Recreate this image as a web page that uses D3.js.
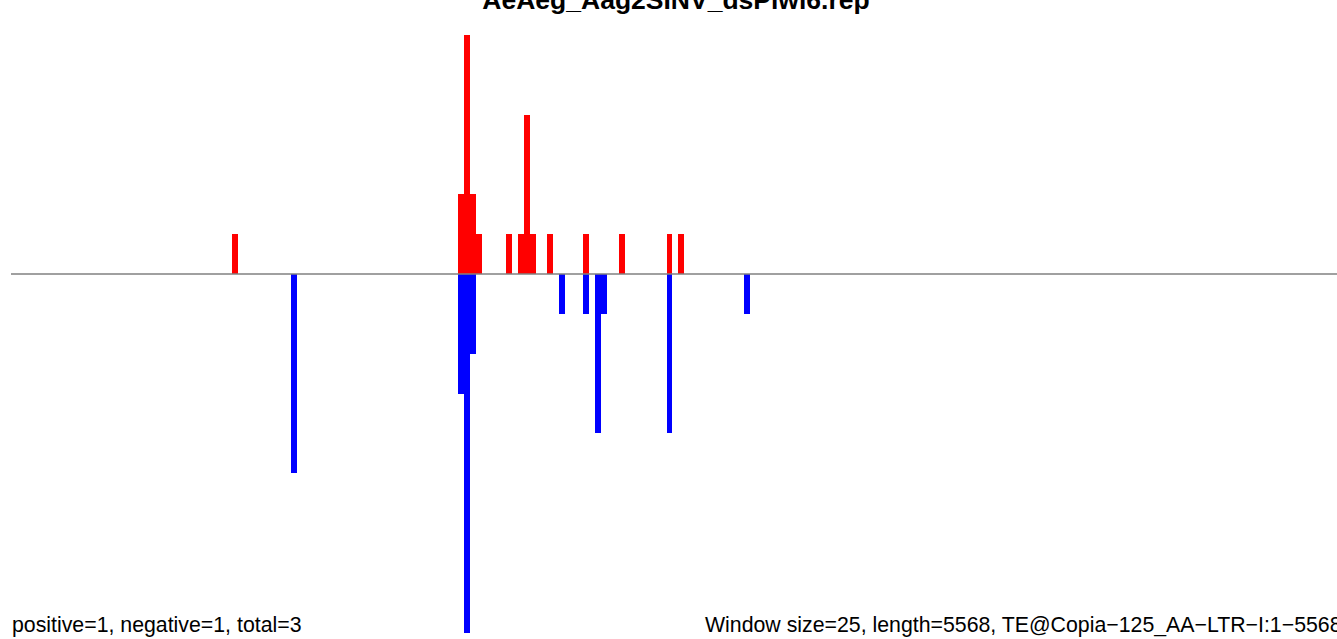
<!DOCTYPE html>
<html>
<head>
<meta charset="utf-8">
<script src="https://cdn.jsdelivr.net/npm/d3@7"></script>
<style>
html,body{margin:0;padding:0;background:#fff;overflow:hidden;}
svg{display:block;}
</style>
</head>
<body>
<script>
// Data: window start positions (bp) and read counts per 25-bp window
const titleText = "AeAeg_Aag2SINV_dsPiwi6.rep";
const seqLength = 5568;
const windowSize = 25;
const positivePos = [925, 1875, 1900, 1925, 1950, 2075, 2125, 2150, 2175, 2250, 2400, 2550, 2750, 2800];
const positiveVal = [1, 2, 6, 2, 1, 1, 1, 4, 1, 1, 1, 1, 1, 1];
const negativePos = [1175, 1875, 1900, 1925, 2300, 2400, 2450, 2475, 2750, 3075];
const negativeVal = [5, 3, 9, 2, 1, 1, 4, 1, 4, 1];
const leftNote = "positive=1, negative=1, total=3";
const rightNote = "Window size=25, length=5568, TE@Copia\u2212125_AA\u2212LTR\u2212I:1\u22125568";

const W = 1337, H = 639;
const svg = d3.select("body").append("svg").attr("width", W).attr("height", H);

const x = d3.scaleLinear().domain([0, seqLength]).range([11.7, 1337.5]);
const y = d3.scaleLinear().domain([-9, 6]).range([274 + 9 * 39.85, 274 - 6 * 39.85]);

const pos = positivePos.map((p, i) => ({p, v: positiveVal[i]}));
const neg = negativePos.map((p, i) => ({p, v: negativeVal[i]}));

svg.append("g").selectAll("rect").data(pos).join("rect")
  .attr("x", d => x(d.p))
  .attr("width", d => x(d.p + windowSize) - x(d.p))
  .attr("y", d => y(d.v))
  .attr("height", d => y(0) - y(d.v))
  .attr("fill", "#ff0000")
  .attr("shape-rendering", "crispEdges");

svg.append("g").selectAll("rect").data(neg).join("rect")
  .attr("x", d => x(d.p))
  .attr("width", d => x(d.p + windowSize) - x(d.p))
  .attr("y", y(0))
  .attr("height", d => y(-d.v) - y(0))
  .attr("fill", "#0000ff")
  .attr("shape-rendering", "crispEdges");

svg.append("line")
  .attr("x1", x(0) - 0.7).attr("x2", W)
  .attr("y1", y(0)).attr("y2", y(0))
  .attr("stroke", "#808080").attr("stroke-width", 1.4);

svg.append("text")
  .attr("x", 676).attr("y", 9)
  .attr("text-anchor", "middle")
  .attr("font-family", "Liberation Sans, Arial, sans-serif")
  .attr("font-weight", "bold")
  .attr("font-size", 26.5)
  .text(titleText);

svg.append("text")
  .attr("x", 12).attr("y", 632)
  .attr("font-family", "Liberation Sans, Arial, sans-serif")
  .attr("font-size", 21.3)
  .text(leftNote);

svg.append("text")
  .attr("x", 705).attr("y", 632)
  .attr("font-family", "Liberation Sans, Arial, sans-serif")
  .attr("font-size", 21.3)
  .text(rightNote);
</script>
</body>
</html>
